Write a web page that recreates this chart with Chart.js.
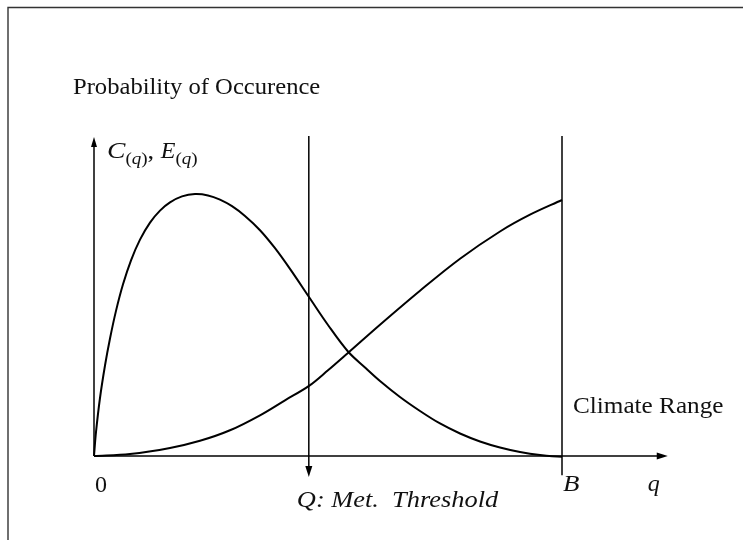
<!DOCTYPE html>
<html><head><meta charset="utf-8">
<script src="https://cdn.jsdelivr.net/npm/chart.js@4.4.0/dist/chart.umd.min.js"></script>
<style>html,body{margin:0;padding:0;background:#fff;}canvas{display:block;}</style>
</head><body>
<canvas id="c" width="743" height="540"></canvas>
<script>
// Curve C(q): probability of occurrence (skewed hump)
const cQ = [0, 0.0043, 0.0128, 0.0235, 0.0342, 0.0470, 0.0620, 0.0791, 0.0983, 0.1197, 0.1410, 0.1624, 0.1880, 0.2158, 0.2436, 0.2692, 0.2949, 0.3226, 0.3547, 0.3868, 0.4188, 0.4594, 0.5000, 0.5427, 0.5791, 0.6111, 0.6538, 0.6966, 0.7393, 0.7821, 0.8248, 0.8675, 0.9103, 0.9530, 1.0000, 1.0449];
const cV = [0, 0.0752, 0.1818, 0.2837, 0.3683, 0.4549, 0.5382, 0.6135, 0.6784, 0.7317, 0.7693, 0.7950, 0.8138, 0.8210, 0.8169, 0.8038, 0.7831, 0.7524, 0.7078, 0.6514, 0.5865, 0.4984, 0.4107, 0.3276, 0.2774, 0.2351, 0.1850, 0.1411, 0.1019, 0.0705, 0.0455, 0.0266, 0.0125, 0.0031, -0.0025, -0.0009];
// Curve E(q): rising curve
const eQ = [0, 0.0769, 0.1624, 0.2265, 0.2906, 0.3547, 0.4081, 0.4594, 0.5000, 0.5427, 0.6111, 0.6966, 0.7821, 0.8675, 0.9316, 1.0000];
const eV = [0, 0.0063, 0.0251, 0.0476, 0.0806, 0.1276, 0.1746, 0.2197, 0.2687, 0.3232, 0.4116, 0.5182, 0.6185, 0.7038, 0.7564, 0.8025];
// reference positions (data units)
const thresholdQ = 0.459;
const climateB = 1.0;
const axisEndQ = 1.226;
const axisTopV = 1.0;
const lineTopV = 1.003;
const thresholdArrowV = -0.066;
const bLineBottomV = -0.06;
// texts
const titleText = "Probability of Occurence";
const originLabel = "0";
const bLabel = "B";
const qLabel = "q";
const climateText = "Climate Range";
const thresholdText = "Q: Met.  Threshold";

const toPts = (xs, ys) => xs.map((x, i) => ({x: x, y: ys[i]}));

const SERIF = '"Liberation Serif", "Times New Roman", serif';

function arrow(ctx, x, y, dir, len, w) {
  ctx.beginPath();
  if (dir === 'right') { ctx.moveTo(x, y); ctx.lineTo(x - len, y - w/2); ctx.lineTo(x - len, y + w/2); }
  else if (dir === 'up') { ctx.moveTo(x, y); ctx.lineTo(x - w/2, y + len); ctx.lineTo(x + w/2, y + len); }
  else { ctx.moveTo(x, y); ctx.lineTo(x - w/2, y - len); ctx.lineTo(x + w/2, y - len); }
  ctx.closePath(); ctx.fill();
}

// draw text stretched horizontally (Computer Modern is wider than Times)
function wideText(ctx, t, x, y, stretch) {
  ctx.save();
  ctx.translate(x, y);
  ctx.scale(stretch, 1);
  ctx.fillText(t, 0, 0);
  ctx.restore();
}

const decor = {
  id: 'decor',
  beforeDraw(chart) {
    const ctx = chart.ctx;
    ctx.save();
    ctx.fillStyle = '#fff';
    ctx.fillRect(0, 0, chart.width, chart.height);
    ctx.strokeStyle = '#333';
    ctx.lineWidth = 1.4;
    ctx.beginPath();
    ctx.moveTo(8, chart.height); ctx.lineTo(8, 7.5); ctx.lineTo(chart.width, 7.5);
    ctx.stroke();
    ctx.restore();
  },
  beforeDatasetsDraw(chart) {
    const ctx = chart.ctx, xs = chart.scales.x, ys = chart.scales.y;
    const X = v => xs.getPixelForValue(v), Y = v => ys.getPixelForValue(v);
    ctx.save();
    ctx.strokeStyle = '#000'; ctx.fillStyle = '#000'; ctx.lineWidth = 1.5;
    const L = 11, W = 7;
    // x axis
    ctx.beginPath(); ctx.moveTo(X(0), Y(0)); ctx.lineTo(X(axisEndQ) - L + 1, Y(0)); ctx.stroke();
    arrow(ctx, X(axisEndQ), Y(0), 'right', L, W);
    // y axis
    ctx.beginPath(); ctx.moveTo(X(0), Y(0)); ctx.lineTo(X(0), Y(axisTopV) + 9); ctx.stroke();
    arrow(ctx, X(0), Y(axisTopV), 'up', 10, 6);
    // threshold line with arrow
    ctx.beginPath(); ctx.moveTo(X(thresholdQ), Y(lineTopV)); ctx.lineTo(X(thresholdQ), Y(thresholdArrowV) - L + 1); ctx.stroke();
    arrow(ctx, X(thresholdQ), Y(thresholdArrowV), 'down', L, W);
    // climate range boundary B
    ctx.beginPath(); ctx.moveTo(X(climateB), Y(lineTopV)); ctx.lineTo(X(climateB), Y(bLineBottomV)); ctx.stroke();

    // texts
    ctx.fillStyle = '#111';
    ctx.textBaseline = 'alphabetic';
    ctx.textAlign = 'left';
    ctx.font = '24px ' + SERIF;
    wideText(ctx, titleText, X(0) - 21, 94, 1.025);
    wideText(ctx, climateText, X(climateB) + 11, 413, 1.05);
    ctx.fillText(originLabel, X(0) + 1, 492);
    ctx.font = 'italic 24px ' + SERIF;
    wideText(ctx, bLabel, X(climateB) + 1, 491, 1.12);
    ctx.fillText(qLabel, X(axisEndQ) - 20, 491);
    wideText(ctx, thresholdText, X(thresholdQ) - 12, 507, 1.1);

    // C_(q), E_(q)
    let x = X(0) + 13; const base = 158, sb = 164;
    const piece = (t, f, b, s) => { ctx.font = f; wideText(ctx, t, x, b, s); x += ctx.measureText(t).width * s; };
    const sub = () => {
      piece('(', '17px ' + SERIF, sb, 1.12);
      piece('q', 'italic 17px ' + SERIF, sb, 1.12);
      piece(')', '17px ' + SERIF, sb, 1.12);
    };
    piece('C', 'italic 24px ' + SERIF, base, 1.15);
    sub();
    piece(', ', '24px ' + SERIF, base, 1.1);
    piece('E', 'italic 24px ' + SERIF, base, 1.0);
    sub();
    ctx.restore();
  }
};

new Chart(document.getElementById('c'), {
  type: 'scatter',
  data: {
    datasets: [
      { label: 'C(q)', data: toPts(cQ, cV), showLine: true, borderColor: '#000', borderWidth: 2, pointRadius: 0, tension: 0.35, clip: false, fill: false },
      { label: 'E(q)', data: toPts(eQ, eV), showLine: true, borderColor: '#000', borderWidth: 2, pointRadius: 0, tension: 0.35, clip: false, fill: false }
    ]
  },
  options: {
    responsive: false,
    animation: false,
    devicePixelRatio: 1,
    layout: { padding: { left: 94, right: 181, top: 137, bottom: 84 } },
    plugins: { legend: { display: false }, tooltip: { enabled: false } },
    scales: {
      x: { type: 'linear', min: 0, max: 1, display: false },
      y: { type: 'linear', min: 0, max: 1, display: false }
    }
  },
  plugins: [decor]
});
</script>
</body></html>
